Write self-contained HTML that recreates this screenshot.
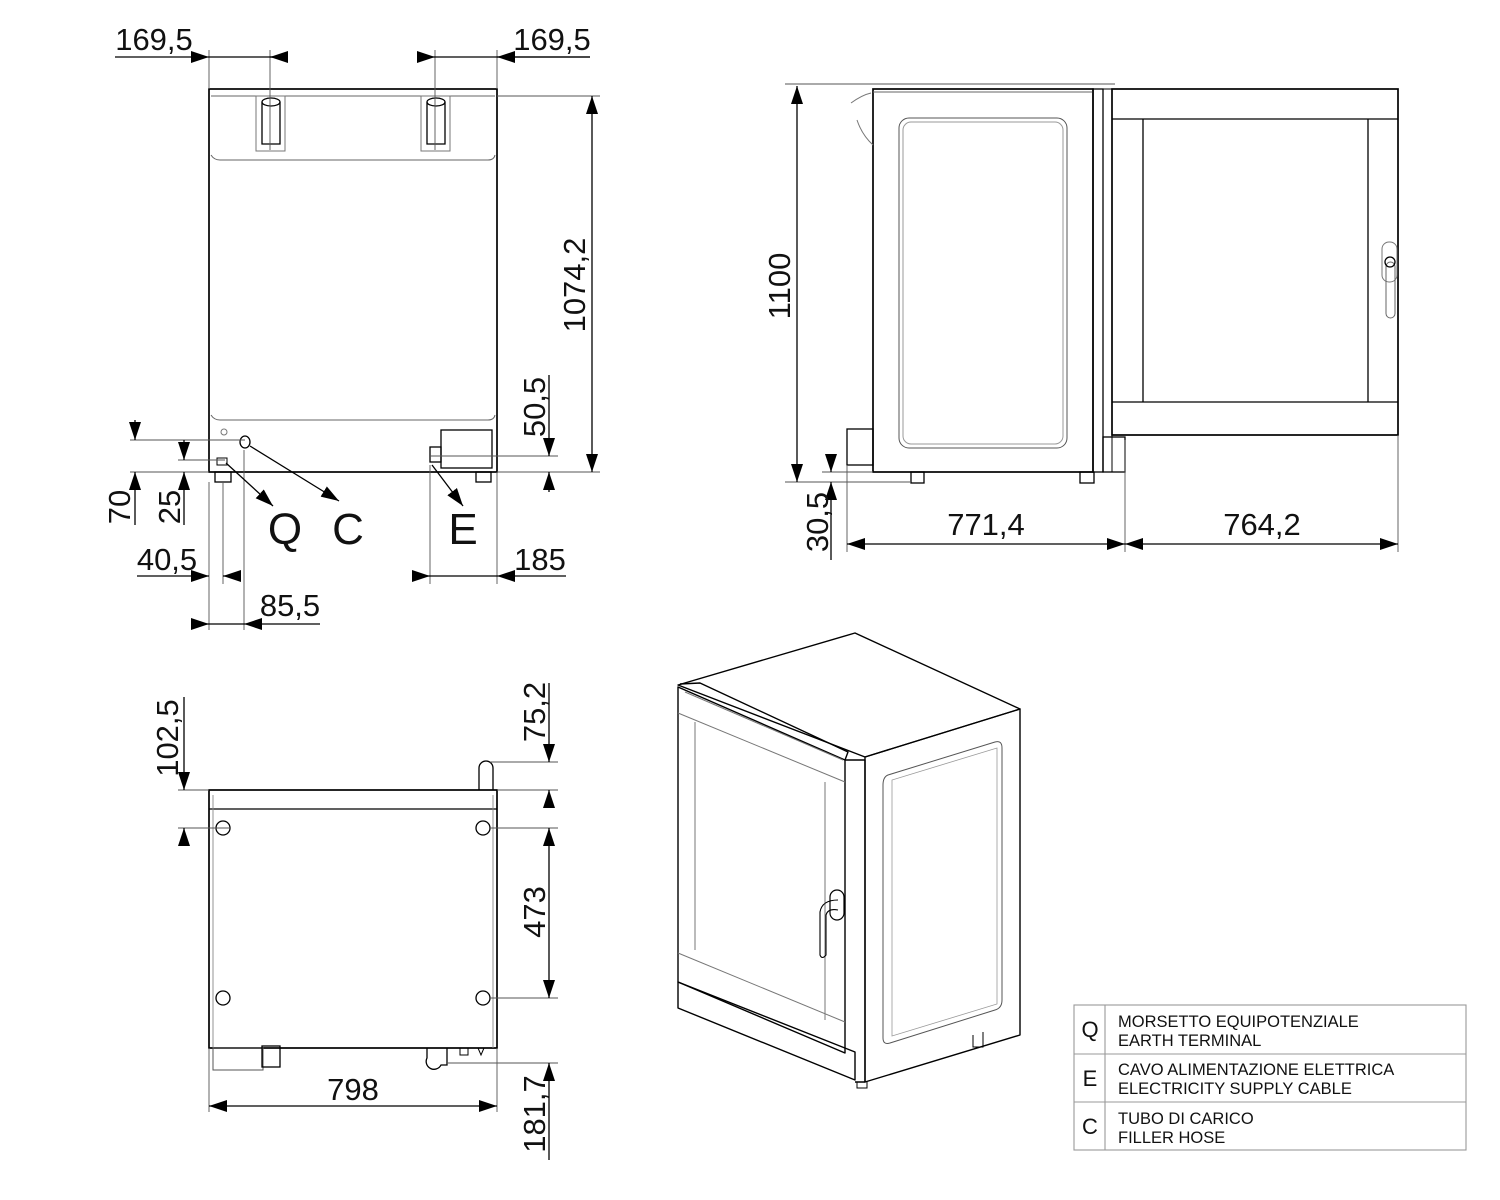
<!DOCTYPE html>
<html><head><meta charset="utf-8"><style>
html,body{margin:0;padding:0;background:#fff}
svg{display:block}
text{font-family:"Liberation Sans",sans-serif;fill:#111}
</style></head><body>
<svg width="1500" height="1200" viewBox="0 0 1500 1200" xmlns="http://www.w3.org/2000/svg">
<defs>
<marker id="a" viewBox="0 0 10 6" refX="10" refY="3" markerWidth="18" markerHeight="12" markerUnits="userSpaceOnUse" orient="auto-start-reverse" preserveAspectRatio="none"><path d="M0,0 L10,3 L0,6 z" fill="#000"/></marker>
</defs>
<g fill="none" stroke="#000" stroke-width="1.3">
<!-- FRONT VIEW -->
<rect x="209" y="89" width="288" height="383" stroke-width="1.7"/>
<path d="M211,96 H495 M211,155 Q214,160 220,160 H488 Q494,160 495,155 M211,415 Q214,420 220,420 H488 Q494,420 495,415" stroke="#666" stroke-width="1"/>
<rect x="256" y="96" width="29" height="55" stroke="#777" stroke-width="1"/>
<rect x="421" y="96" width="29" height="55" stroke="#777" stroke-width="1"/>
<path d="M262,102 V144 H280 V102" stroke="#000"/>
<ellipse cx="271" cy="102" rx="9" ry="4"/>
<path d="M427,102 V144 H445 V102"/>
<ellipse cx="436" cy="102" rx="9" ry="4"/>
<rect x="441" y="430" width="51" height="38"/>
<rect x="430" y="447" width="11" height="15"/>
<rect x="215" y="472" width="16" height="10"/>
<rect x="476" y="472" width="15" height="10"/>
<rect x="217" y="458" width="10" height="7" stroke-width="1"/>
<circle cx="224" cy="432" r="3" stroke="#777" stroke-width="1"/>
<ellipse cx="245" cy="442" rx="5" ry="6"/>
<g stroke="#555" stroke-width="0.9">
<path d="M209,50 V89 M270,50 V150 M435,50 V150 M497,50 V89 M497,96 H600 M497,472 H600 M430,456 H558 M497,472 H558 M130,440 H245 M178,460 H225 M130,472 H209 M209,482 V630 M223,482 V584 M244,450 V630 M430,465 V584 M497,472 V584"/>
</g>
<path d="M115,57 H209" marker-end="url(#a)"/><path d="M209,57 H285"/><path d="M285,57 H270" marker-end="url(#a)"/>
<path d="M420,57 H435" marker-end="url(#a)"/><path d="M435,57 H590"/><path d="M590,57 H497" marker-end="url(#a)"/>
<path d="M592,96 V472" marker-start="url(#a)" marker-end="url(#a)"/>
<path d="M549,375 V456" marker-end="url(#a)"/><path d="M549,492 V472" marker-end="url(#a)"/>
<path d="M135,420 V440" marker-end="url(#a)"/><path d="M135,525 V472" marker-end="url(#a)"/>
<path d="M184,440 V460" marker-end="url(#a)"/><path d="M184,525 V472" marker-end="url(#a)"/>
<path d="M137,576 H209" marker-end="url(#a)"/><path d="M237,576 H223" marker-end="url(#a)"/>
<path d="M193,624 H209" marker-end="url(#a)"/><path d="M320,624 H244" marker-end="url(#a)"/><path d="M209,624 H244"/>
<path d="M415,576 H430" marker-end="url(#a)"/><path d="M566,576 H497" marker-end="url(#a)"/><path d="M430,576 H497"/>
<path d="M226,463 L273,506" marker-end="url(#a)"/>
<path d="M250,446 L339,501" marker-end="url(#a)"/>
<path d="M432,465 L463,506" marker-end="url(#a)"/>

<!-- SIDE VIEW -->
<path d="M785,84 H1115" stroke="#555" stroke-width="0.9"/>
<rect x="873" y="89" width="220" height="383" stroke-width="1.7"/>
<path d="M873,92 H1093" stroke="#666" stroke-width="1"/>
<rect x="1093" y="89" width="10" height="383"/>
<rect x="1103" y="89" width="9" height="383" stroke-width="1"/>
<rect x="1103" y="437" width="22" height="35"/>
<rect x="847" y="429" width="26" height="36"/>
<path d="M851,103 Q862,95 871,93 M857,120 Q862,135 873,145" stroke="#777" stroke-width="1"/>
<rect x="899" y="118" width="168" height="330" rx="10" stroke="#555" stroke-width="1"/>
<rect x="903" y="122" width="160" height="322" rx="8" stroke="#999" stroke-width="1"/>
<rect x="911" y="472" width="13" height="11"/>
<rect x="1080" y="472" width="14" height="11"/>
<rect x="1112" y="89" width="286" height="346" stroke-width="1.7"/>
<path d="M1112,119 H1398 M1112,402 H1398 M1143,119 V402 M1368,119 V402"/>
<rect x="1382" y="242" width="15" height="40" rx="7" stroke="#777" stroke-width="1"/>
<rect x="1386" y="262" width="9" height="56" rx="4.5" stroke="#666" stroke-width="1"/>
<circle cx="1390" cy="262" r="5"/>
<g stroke="#555" stroke-width="0.9">
<path d="M785,482 H911 M822,472 H873 M847,465 V552 M1125,440 V552 M1398,435 V552"/>
</g>
<path d="M797,86 V482" marker-start="url(#a)" marker-end="url(#a)"/>
<path d="M831,455 V472" marker-end="url(#a)"/><path d="M831,560 V482" marker-end="url(#a)"/>
<path d="M847,544 H1125" marker-start="url(#a)" marker-end="url(#a)"/>
<path d="M1125,544 H1398" marker-start="url(#a)" marker-end="url(#a)"/>

<!-- BOTTOM VIEW -->
<rect x="209" y="790" width="288" height="258" stroke-width="1.7"/>
<path d="M209,809 H497" />
<path d="M213,795 V1048 M493,795 V1048" stroke="#888" stroke-width="0.9"/>
<circle cx="223" cy="828" r="7"/><circle cx="483" cy="828" r="7"/>
<circle cx="223" cy="998" r="7"/><circle cx="483" cy="998" r="7"/>
<path d="M479,790 V768 A7,7 0 0 1 493,768 V790"/>
<rect x="213" y="1048" width="50" height="22" stroke="#555" stroke-width="1"/>
<rect x="262" y="1046" width="18" height="21"/>
<path d="M427,1048 V1058 A7,7 0 0 0 441,1065 H447 V1048"/>
<path d="M460,1048 V1055 H468 V1048 M478,1048 L481,1055 L484,1048" stroke-width="1"/>
<g stroke="#555" stroke-width="0.9">
<path d="M178,790 H209 M178,828 H230 M490,762 H558 M497,790 H558 M490,828 H558 M490,998 H558 M447,1063 H558 M209,1048 V1112 M497,1048 V1112"/>
</g>
<path d="M184,697 V790" marker-end="url(#a)"/><path d="M184,845 V828" marker-end="url(#a)"/>
<path d="M549,683 V762" marker-end="url(#a)"/><path d="M549,805 V790" marker-end="url(#a)"/>
<path d="M549,828 V998" marker-start="url(#a)" marker-end="url(#a)"/>
<path d="M549,1160 V1063" marker-end="url(#a)"/>
<path d="M209,1106 H497" marker-start="url(#a)" marker-end="url(#a)"/>

<!-- ISOMETRIC -->
<g stroke-width="1.4" stroke-linejoin="round">
<path d="M678,685 L855,633 L1020,709 L865,757 Z"/>
<path d="M865,757 L1020,709 V1035 L865,1082 Z"/>
<path d="M845,760 H865 V1082 H855"/>
<path d="M678,687 L845,760 V1053 L678,982 Z"/>
<path d="M678,982 L855,1052 V1080 L678,1008 Z"/>
<path d="M680,684 L700,683 L848,752 L845,760"/>
</g>
<path d="M685,692 L843,760 M695,722 V950 M825,782 V1020 M678,713 L845,782 M678,953 L845,1022" stroke="#777" stroke-width="1"/>
<path d="M888,775 Q883,777 883,785 V1038 Q883,1045 890,1043 L995,1010 Q1002,1008 1002,1000 V748 Q1002,740 995,742 Z" stroke="#555" stroke-width="1"/>
<path d="M892,780 V1036 L997,1004 V748 Z" stroke="#999" stroke-width="0.8"/>
<rect x="830" y="890" width="14" height="30" rx="7" stroke-width="1.2"/>
<path d="M838,900 Q822,900 820,912 V955 Q822,960 826,955 V915 Q828,908 838,910" stroke-width="1.1"/>
<path d="M973,1035 V1047 H983 V1032 M857,1082 V1088 H867 V1082" stroke-width="1"/>

<!-- TABLE -->
<g stroke="#999" stroke-width="1.1">
<rect x="1074" y="1005" width="392" height="145"/>
<path d="M1074,1054 H1466 M1074,1102 H1466 M1105,1005 V1150"/>
</g>
</g>

<!-- TEXT -->
<g font-size="31">
<text x="154" y="50" text-anchor="middle">169,5</text>
<text x="552" y="50" text-anchor="middle">169,5</text>
<text x="596" y="296" text-anchor="middle" transform="rotate(-90 585 296)">1074,2</text>
<text x="556" y="418" text-anchor="middle" transform="rotate(-90 545 418)">50,5</text>
<text x="141" y="518" text-anchor="middle" transform="rotate(-90 130 518)">70</text>
<text x="191" y="518" text-anchor="middle" transform="rotate(-90 180 518)">25</text>
<text x="167" y="570" text-anchor="middle">40,5</text>
<text x="290" y="616" text-anchor="middle">85,5</text>
<text x="540" y="570" text-anchor="middle">185</text>
<text x="801" y="297" text-anchor="middle" transform="rotate(-90 790 297)">1100</text>
<text x="839" y="533" text-anchor="middle" transform="rotate(-90 828 533)">30,5</text>
<text x="986" y="535" text-anchor="middle">771,4</text>
<text x="1262" y="535" text-anchor="middle">764,2</text>
<text x="189" y="749" text-anchor="middle" transform="rotate(-90 178 749)">102,5</text>
<text x="556" y="723" text-anchor="middle" transform="rotate(-90 545 723)">75,2</text>
<text x="556" y="923" text-anchor="middle" transform="rotate(-90 545 923)">473</text>
<text x="556" y="1125" text-anchor="middle" transform="rotate(-90 545 1125)">181,7</text>
<text x="353" y="1100" text-anchor="middle">798</text>
</g>
<g font-size="44">
<text x="285" y="544" text-anchor="middle">Q</text>
<text x="348" y="544" text-anchor="middle">C</text>
<text x="463" y="544" text-anchor="middle">E</text>
</g>
<g font-size="22">
<text x="1090" y="1037" text-anchor="middle">Q</text>
<text x="1090" y="1086" text-anchor="middle">E</text>
<text x="1090" y="1134" text-anchor="middle">C</text>
</g>
<g font-size="16.5">
<text x="1118" y="1027">MORSETTO EQUIPOTENZIALE</text>
<text x="1118" y="1046">EARTH TERMINAL</text>
<text x="1118" y="1075">CAVO ALIMENTAZIONE ELETTRICA</text>
<text x="1118" y="1094">ELECTRICITY SUPPLY CABLE</text>
<text x="1118" y="1124">TUBO DI CARICO</text>
<text x="1118" y="1143">FILLER HOSE</text>
</g>
</svg>
</body></html>
